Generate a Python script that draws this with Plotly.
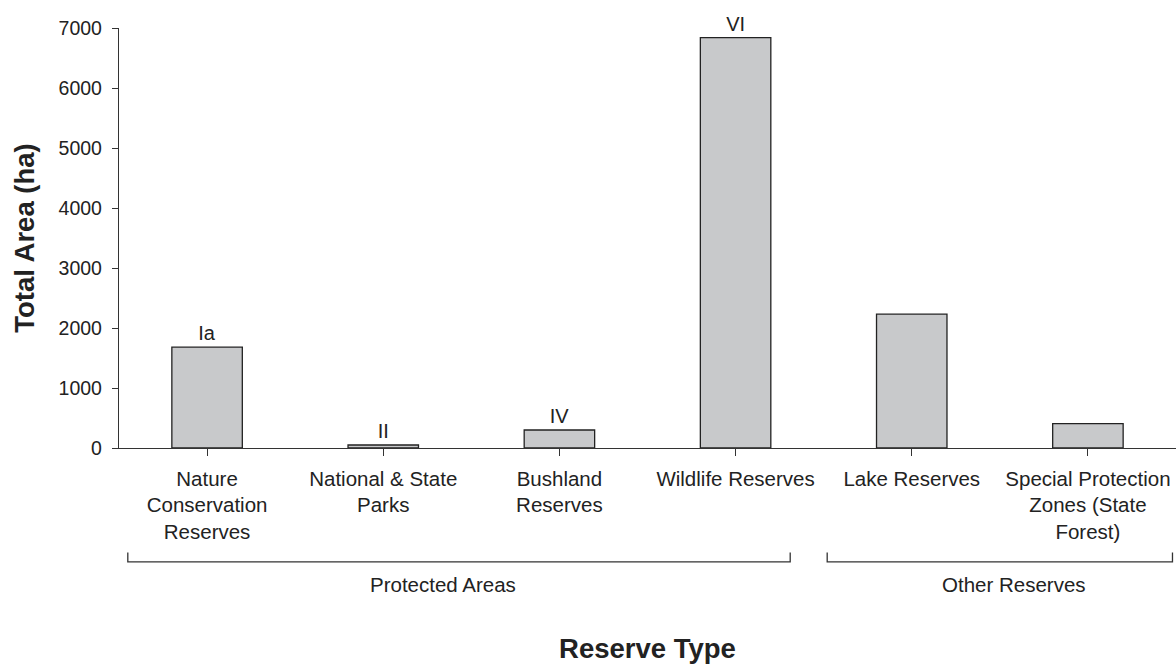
import plotly.graph_objects as go

categories = ["Nature Conservation Reserves", "National & State Parks", "Bushland Reserves",
              "Wildlife Reserves", "Lake Reserves", "Special Protection Zones (State Forest)"]
tick_labels = ["Nature<br>Conservation<br>Reserves", "National & State<br>Parks", "Bushland<br>Reserves",
               "Wildlife Reserves", "Lake Reserves", "Special Protection<br>Zones (State<br>Forest)"]
total_area = [1680, 50, 300, 6840, 2230, 405]
iucn_labels = ["Ia", "II", "IV", "VI", "", ""]
y_ticks = [0, 1000, 2000, 3000, 4000, 5000, 6000, 7000]

group_names = ["Protected Areas", "Other Reserves"]
group_start = [-0.45, 3.52]
group_end = [3.31, 5.48]
group_label_x = [1.34, 4.58]

FONT = "Liberation Sans, Arial, Helvetica, sans-serif"
INK = "#222222"
LINE = "#333333"

fig = go.Figure()
fig.add_trace(go.Bar(
    x=list(range(len(categories))), y=total_area,
    width=0.4,
    marker=dict(color="#c8c9cb", line=dict(color=INK, width=1.3)),
    text=iucn_labels, textposition="outside", constraintext="none",
    textfont=dict(family=FONT, size=20, color=INK),
    cliponaxis=False, hoverinfo="skip", showlegend=False,
))

shapes = []
annotations = []
for name, s, e, lx in zip(group_names, group_start, group_end, group_label_x):
    shapes.append(dict(type="path", xref="x", yref="paper",
                       path=f"M {s},-0.249 L {s},-0.271 L {e},-0.271 L {e},-0.249",
                       line=dict(color=LINE, width=1.3)))
    annotations.append(dict(x=lx, y=-0.326, xref="x", yref="paper", text=name,
                            showarrow=False, xanchor="center", yanchor="middle",
                            font=dict(family=FONT, size=20.5, color=INK)))

fig.update_layout(
    width=1176, height=664,
    margin=dict(l=119, r=0, t=28, b=216),
    paper_bgcolor="white", plot_bgcolor="white",
    font=dict(family=FONT, size=20, color=INK),
    shapes=shapes, annotations=annotations,
    xaxis=dict(
        range=[-0.5, len(categories) - 0.5],
        tickmode="array", tickvals=list(range(len(categories))), ticktext=tick_labels,
        tickson="boundaries", ticks="outside", ticklen=7, tickwidth=1.3, tickcolor=LINE,
        showline=True, linecolor=LINE, linewidth=1.3, showgrid=False, zeroline=False,
        ticklabelstandoff=5,
        tickfont=dict(family=FONT, size=20.5, color=INK),
        title=dict(text="<b>Reserve Type</b>", font=dict(family=FONT, size=27.5, color=INK), standoff=96),
    ),
    yaxis=dict(
        range=[0, 7000], tickvals=y_ticks,
        ticks="outside", ticklen=6, tickwidth=1.3, tickcolor=LINE,
        showline=True, linecolor=LINE, linewidth=1.3, showgrid=False, zeroline=False,
        ticklabelstandoff=6,
        tickfont=dict(family=FONT, size=19.5, color=INK),
        title=dict(text="<b>Total Area (ha)</b>", font=dict(family=FONT, size=27.5, color=INK), standoff=15),
    ),
)

fig.write_html("out.html",
               config={"displayModeBar": False},
               post_script="document.body.style.margin='0';document.body.style.overflow='hidden';")
